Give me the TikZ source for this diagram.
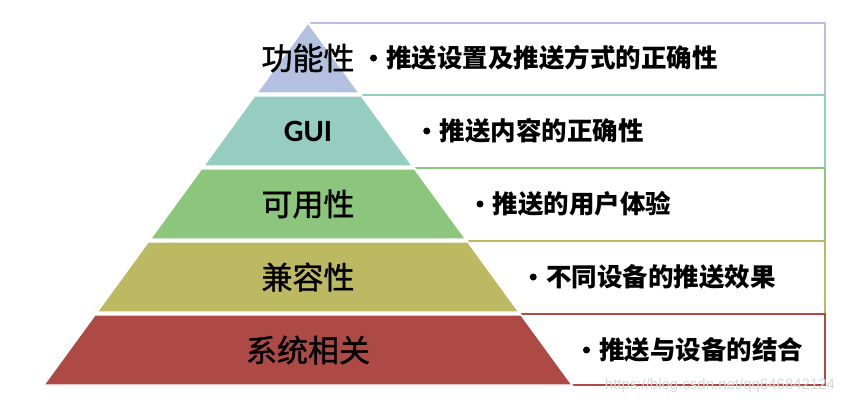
\documentclass[tikz,border=0pt]{standalone}
\usepackage{fontspec}
\setmainfont{Liberation Sans}
\newfontfamily\cjk{Noto Sans CJK SC}
\newfontfamily\cjktitre{Noto Sans CJK SC}[FakeBold=1.2]
\newfontfamily\guifont{Carlito}
\usetikzlibrary{positioning}
\definecolor{niveauA}{HTML}{B3C0DF}
\definecolor{niveauB}{HTML}{95CEC0}
\definecolor{niveauC}{HTML}{8CC57C}
\definecolor{niveauD}{HTML}{BDB862}
\definecolor{niveauE}{HTML}{AD4A46}
\tikzset{
  cadre/.style={
    line width=2.6pt,
    fill=white
  },
  niveau/.style={
    draw=white,
    line width=1.2pt,
    line join=round
  },
  titre/.style={
    inner sep=0pt,
    font=\cjktitre\fontsize{31}{31}\selectfont
  },
  puce/.style={
    circle,
    fill=black,
    inner sep=0pt,
    minimum size=7pt
  },
  item/.style={
    inner sep=0pt,
    font=\cjk\bfseries\fontsize{25.5}{25.5}\selectfont
  }
}
\begin{document}
\begin{tikzpicture}[x=1pt,y=-1pt]
\useasboundingbox (0,0) rectangle (852,407);

% --- Cadres a droite ---
\foreach \i/\col in {0/niveauA,1/niveauB,2/niveauC,3/niveauD,4/niveauE}{
  \pgfmathsetmacro{\bt}{23+73*\i-(\i>0)}
  \pgfmathsetmacro{\bb}{\i<4 ? 23+73*(\i+1)-1 : 385}
  \pgfmathsetmacro{\bl}{308+0.7293*(\bt-23)-1}
  \draw[cadre, draw=\col] (\bl,\bt) rectangle (825,\bb);
}

% --- Fond blanc sous la pyramide ---
\fill[white] (308,20) -- (574,386.5) -- (42,386.5) -- cycle;

% --- Pyramide ---
\foreach \i/\col/\nom/\txt in {
    0/niveauA/功能性/推送设置及推送方式的正确性,
    1/niveauB/{\guifont\bfseries GUI}/推送内容的正确性,
    2/niveauC/可用性/推送的用户体验,
    3/niveauD/兼容性/不同设备的推送效果,
    4/niveauE/系统相关/推送与设备的结合}{
  \pgfmathsetmacro{\lt}{23+73*\i}
  \pgfmathsetmacro{\lb}{\lt+70}
  \pgfmathsetmacro{\dt}{0.7293*(\lt-23)}
  \pgfmathsetmacro{\db}{0.7293*(\lb-23)}
  \pgfmathsetmacro{\px}{308+0.7293*(\lt+12)+40}
  \fill[niveau, fill=\col] (308-\dt,\lt) -- (308+\dt,\lt)
    -- (308+\db,\lb) -- (308-\db,\lb) -- cycle;
  \node[titre] (titre\i) at (308,\lt+35) {\nom};
  \node[puce] (puce\i) at (\px,\lt+35) {};
  \node[item, right=9pt of puce\i] (item\i) {\txt};
}

% --- Filigrane ---
\node[text=gray!30, font=\fontsize{15}{15}\selectfont, inner sep=0pt]
  (filigrane) at (720,386) {https://blog.csdn.net/qq646842124};

\end{tikzpicture}
\end{document}
